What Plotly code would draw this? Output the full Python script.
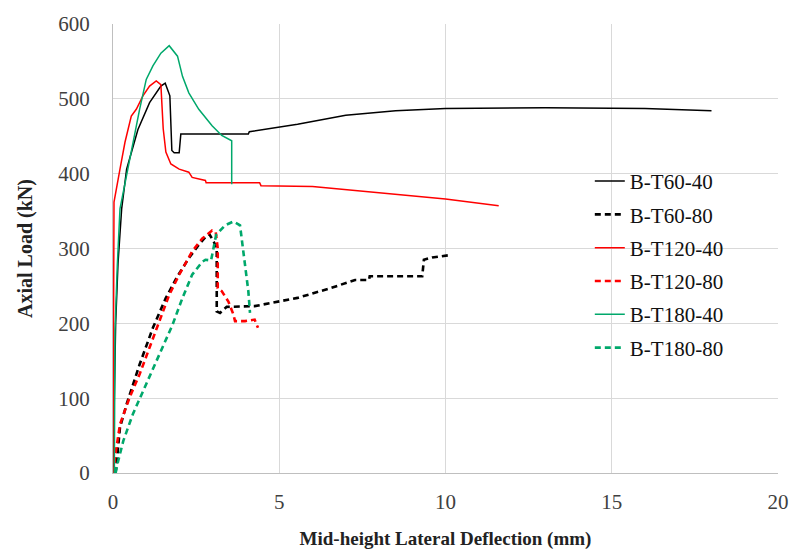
import plotly.graph_objects as go

# Mid-height lateral deflection (mm) vs axial load (kN) for each column specimen
t60_40_x = [0, 0.03, 0.08, 0.15, 0.26, 0.41, 0.75, 1.10, 1.44, 1.57, 1.71, 1.77, 1.84, 1.99, 2.04,
            4.07, 4.10, 5.55, 7.0, 8.5, 10.0, 13.0, 16.0, 18.0]
t60_40_y = [0, 100, 200, 280, 353, 406, 459, 495, 517, 521, 504, 431, 428, 428, 453,
            453, 456, 466, 478, 484, 487, 488, 487, 484]

t60_80_x = [0.05, 0.09, 0.21, 0.41, 0.80, 1.20, 1.59, 1.94, 2.28, 2.58, 2.83, 2.90, 3.03, 3.12, 3.12,
            3.22, 3.42, 4.26, 5.55, 6.54, 7.28, 7.70, 7.72, 9.30, 9.35, 9.60, 10.1]
t60_80_y = [0, 4, 61, 92, 145, 194, 234, 263, 287, 305, 318, 319, 309, 300, 216,
            214, 222, 223, 234, 247, 258, 258, 263, 263, 285, 288, 291]

t120_40_x = [0, 0.01, 0.03, 0.21, 0.36, 0.55, 0.70, 0.90, 1.10, 1.30, 1.44, 1.51, 1.59, 1.74, 1.99,
             2.28, 2.38, 2.78, 2.80, 4.41, 4.45, 6.0, 8.0, 10.0, 11.6]
t120_40_y = [0, 250, 362, 406, 442, 477, 486, 504, 517, 524, 519, 460, 429, 413, 406,
             402, 395, 391, 388, 388, 384, 383, 374, 366, 357]

t120_80_x = [0.03, 0.06, 0.21, 0.50, 0.80, 1.10, 1.39, 1.69, 1.99, 2.38, 2.68, 2.98, 3.09, 3.15, 3.15,
             3.27, 3.47, 3.62, 3.67, 3.97, 4.26, 4.36]
t120_80_y = [0, 21, 65, 101, 132, 167, 203, 238, 265, 296, 313, 324, 322, 300, 247,
             243, 229, 212, 203, 203, 205, 194]

t180_40_x = [0.04, 0.05, 0.06, 0.13, 0.21, 0.41, 0.60, 0.80, 1.00, 1.20, 1.44, 1.69, 1.94, 2.09, 2.28,
             2.58, 2.98, 3.27, 3.57, 3.57]
t180_40_y = [0, 100, 190, 278, 353, 398, 442, 486, 526, 544, 561, 571, 557, 530, 508,
             486, 464, 451, 444, 386]

t180_80_x = [0.08, 0.11, 0.31, 0.60, 1.00, 1.39, 1.79, 2.09, 2.38, 2.68, 2.78, 2.95, 3.10, 3.37, 3.62,
             3.82, 3.97, 4.07, 4.12]
t180_80_y = [0, 8, 43, 79, 119, 158, 198, 234, 265, 282, 285, 284, 318, 331, 336,
             331, 278, 243, 214]

RED = "#ff0000"
GREEN = "#00a86b"
SERIF = "Liberation Serif, Times New Roman, serif"

series = [
    ("B-T60-40", t60_40_x, t60_40_y, "black", "solid", 1.5),
    ("B-T60-80", t60_80_x, t60_80_y, "black", "6px,4px", 2.6),
    ("B-T120-40", t120_40_x, t120_40_y, RED, "solid", 1.5),
    ("B-T120-80", t120_80_x, t120_80_y, RED, "6px,4px", 2.6),
    ("B-T180-40", t180_40_x, t180_40_y, GREEN, "solid", 1.5),
    ("B-T180-80", t180_80_x, t180_80_y, GREEN, "6px,4px", 2.6),
]

fig = go.Figure()
for name, xs, ys, color, dash, width in series:
    fig.add_trace(go.Scatter(
        x=xs, y=ys, mode="lines", name=name, legendgroup=name,
        line=dict(color=color, dash=dash, width=width),
    ))

fig.update_layout(
    width=801, height=558,
    margin=dict(l=113, r=14, t=24, b=82),
    paper_bgcolor="white", plot_bgcolor="white",
    font=dict(family=SERIF, size=21, color="#404040"),
    showlegend=True,
    legend=dict(
        x=0.717, y=0.695, xanchor="left", yanchor="top",
        font=dict(family=SERIF, size=21, color="#111111"),
        bgcolor="rgba(0,0,0,0)", tracegroupgap=3,
    ),
    xaxis=dict(
        range=[0, 20], tickvals=[0, 5, 10, 15, 20], ticks="",
        showgrid=True, gridcolor="#d9d9d9", gridwidth=1,
        showline=True, linecolor="#bfbfbf", linewidth=1,
        zeroline=False, ticklabelstandoff=10,
        title=dict(text="<b>Mid-height Lateral Deflection (mm)</b>",
                   font=dict(family=SERIF, size=19, color="#222222"), standoff=18),
    ),
    yaxis=dict(
        range=[0, 600], tickvals=[0, 100, 200, 300, 400, 500, 600], ticks="",
        showgrid=True, gridcolor="#d9d9d9", gridwidth=1,
        showline=True, linecolor="#bfbfbf", linewidth=1,
        zeroline=False, ticklabelstandoff=18,
        title=dict(text="<b>Axial Load (kN)</b>",
                   font=dict(family=SERIF, size=20, color="#222222"), standoff=20),
    ),
)

fig.write_html("out.html")
